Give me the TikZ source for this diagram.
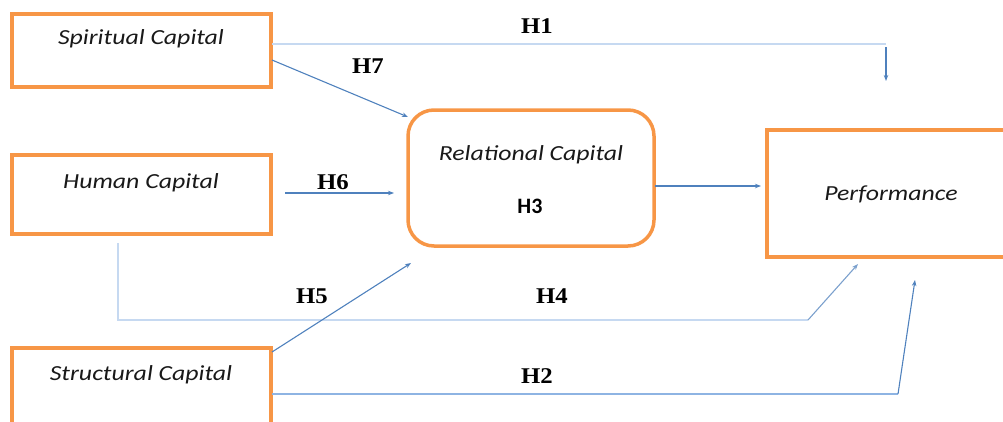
\documentclass[tikz,border=0pt]{standalone}
\usepackage{fontspec}
\usetikzlibrary{arrows.meta}
\newfontfamily\boxfont[FakeStretch=1.2]{Carlito}
\newfontfamily\hfont[FakeStretch=1.1]{Liberation Serif}
\newfontfamily\hsans{Carlito}
\definecolor{orng}{HTML}{F79646}
\definecolor{blu}{HTML}{4F81BD}
\definecolor{lblu}{HTML}{C6D9F1}
\definecolor{mblu}{HTML}{8EB4E3}
\begin{document}
\begin{tikzpicture}[x=1pt,y=-1pt,
  obox/.style={draw=orng,line width=3.5pt,inner sep=0pt,outer sep=0pt},
  btxt/.style={font=\boxfont\itshape\fontsize{21.5}{24}\selectfont,inner sep=0pt,text=black!90},
  hlab/.style={font=\hfont\bfseries\fontsize{22.5}{24}\selectfont,inner sep=0pt},
  arr/.style={draw=blu,line width=1.1pt,-{Stealth[length=6pt,width=4.5pt]}},
  lite/.style={draw=lblu,line width=1.3pt},
  mid/.style={draw=mblu,line width=1.2pt}]
\useasboundingbox (0,0) rectangle (1003,421);
\clip (0,0) rectangle (1003,421);
% boxes
\node[obox,minimum width=259pt,minimum height=73pt] (sp) at (141.5,50.5) {};
\node[obox,minimum width=259pt,minimum height=79pt] (hu) at (141.5,194.5) {};
\node[obox,minimum width=259pt,minimum height=90pt] (st) at (141.5,393) {};
\node[obox,rounded corners=26pt,minimum width=246pt,minimum height=136pt] (rel) at (531,178) {};
\node[obox,minimum width=260pt,minimum height=127pt] (perf) at (897,193.5) {};
% box texts
\node[btxt] (tsp) at (141,39) {Spiritual Capital};
\node[btxt] (thu) at (141,183) {Human Capital};
\node[btxt] (tst) at (141,375) {Structural Capital};
\node[btxt] (trel) at (531,155) {Relational Capital};
\node[font=\hsans\bfseries\fontsize{22}{24}\selectfont,inner sep=0pt] (th3) at (530,206) {H3};
\node[btxt] (tperf) at (891,194) {Performance};
% coordinates
\coordinate (h1a) at (272,44);
\coordinate (h1b) at (886,44);
\coordinate (h1c) at (886,81);
\coordinate (h7a) at (272,60);
\coordinate (h7b) at (408,117);
\coordinate (h6a) at (285,193);
\coordinate (h6b) at (394,193);
\coordinate (rpa) at (655,186);
\coordinate (rpb) at (761,186);
\coordinate (h4a) at (118,243);
\coordinate (h4b) at (118,320);
\coordinate (h4c) at (808,320);
\coordinate (h4d) at (858,264);
\coordinate (h5a) at (272,352);
\coordinate (h5b) at (411,263);
\coordinate (h2a) at (272,394);
\coordinate (h2b) at (898,394);
\coordinate (h2c) at (915,280);
% connectors
\draw[lite] (h1a) -- (h1b);
\draw[arr] ([yshift=-3pt]h1b) -- (h1c);
\draw[arr] (h7a) -- (h7b);
\draw[arr] (h6a) -- (h6b);
\draw[arr] (rpa) -- (rpb);
\draw[lite] (h4a) -- (h4b) -- (h4c);
\draw[arr,draw=blu!75] (h4c) -- (h4d);
\draw[arr] (h5a) -- (h5b);
\draw[mid] (h2a) -- (h2b);
\draw[arr] (h2b) -- (h2c);
% labels
\node[hlab] (l1) at (537,26) {H1};
\node[hlab] (l7) at (368,66) {H7};
\node[hlab] (l6) at (333,182) {H6};
\node[hlab] (l5) at (312,296) {H5};
\node[hlab] (l4) at (552,296) {H4};
\node[hlab] (l2) at (537,376) {H2};
\end{tikzpicture}
\end{document}
